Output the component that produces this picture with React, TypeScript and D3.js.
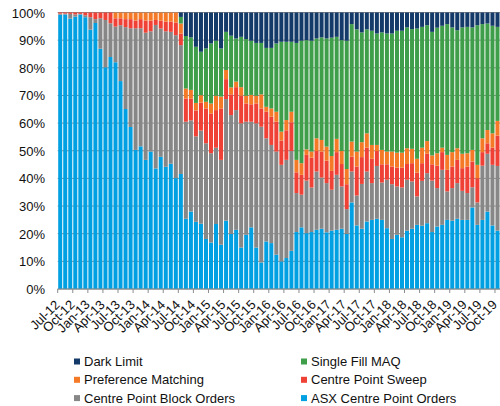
import React from 'react'
import * as d3 from 'd3'

// share of Centre Point volume by order type, Jul-12 .. Oct-19 (monthly, %)
const asxCentrePoint = [
  99.2, 99.3, 97.8, 98.5, 99.3, 98.3, 93.8, 96.2, 86.9, 80.2, 83.9, 82.0, 75.2, 65.1, 58.6, 50.3,
  51.6, 46.7, 49.7, 43.6, 47.8, 44.2, 45.3, 40.1, 41.6, 25.4, 28.0, 24.3, 23.6, 18.1, 16.8, 23.5,
  16.0, 24.7, 19.9, 21.4, 15.0, 19.6, 22.3, 15.0, 9.6, 17.2, 16.6, 12.4, 10.0, 11.2, 13.8, 20.6,
  22.3, 20.2, 20.6, 21.4, 21.8, 20.5, 21.1, 21.4, 21.8, 19.9, 31.3, 23.0, 21.8, 24.4, 25.0, 25.4,
  25.0, 22.0, 18.1, 19.6, 18.7, 21.1, 21.8, 23.2, 22.9, 23.8, 20.6, 22.6, 23.2, 25.0, 24.7, 25.4,
  25.0, 25.0, 29.5, 23.2, 25.0, 28.0, 23.0, 21.1,
]
const blockOrders = [
  0.4, 0.3, 1.7, 0.8, 0.2, 0.7, 4.5, 1.4, 11.0, 17.1, 12.2, 12.9, 20.2, 29.6, 35.7, 44.0,
  42.7, 46.0, 43.5, 51.9, 46.4, 49.0, 47.7, 51.7, 46.6, 35.1, 33.0, 30.9, 33.7, 34.6, 32.3, 27.6,
  30.7, 44.0, 43.0, 43.3, 44.9, 40.9, 38.2, 44.9, 49.1, 37.3, 35.5, 37.3, 34.9, 35.5, 36.1, 14.1,
  11.8, 19.0, 16.1, 21.1, 18.5, 17.8, 14.8, 19.9, 15.3, 9.0, 11.2, 10.8, 16.2, 18.1, 13.3, 19.1,
  13.5, 17.5, 19.8, 17.5, 18.0, 18.4, 17.1, 10.3, 16.2, 18.1, 18.6, 13.9, 19.9, 10.3, 11.8, 12.9,
  10.5, 9.7, 7.3, 8.1, 19.6, 20.9, 21.9, 23.4,
]
const sweep = [
  0.4, 0.4, 0.5, 0.7, 0.5, 1.0, 1.7, 2.4, 2.1, 2.7, 3.9, 3.0, 2.5, 2.9, 3.3, 2.8,
  3.3, 4.4, 3.9, 1.8, 2.9, 3.5, 3.7, 4.6, 4.2, 8.4, 7.8, 9.4, 10.1, 12.6, 14.4, 13.6,
  18.6, 7.2, 7.5, 8.3, 10.0, 6.6, 6.3, 7.2, 6.6, 9.6, 10.2, 10.8, 8.8, 10.7, 10.4, 7.5,
  7.2, 9.3, 10.8, 7.4, 9.4, 8.1, 6.8, 8.2, 8.1, 9.0, 5.4, 10.5, 9.7, 8.6, 8.8, 5.4,
  6.6, 5.6, 6.4, 6.8, 7.2, 5.7, 6.6, 8.6, 6.4, 7.0, 5.9, 8.1, 6.4, 7.8, 7.8, 8.4,
  8.2, 9.6, 9.3, 8.8, 4.9, 3.8, 6.2, 11.0,
]
const preference = [
  0, 0, 0, 0, 0, 0, 0, 0, 0, 0, 0, 2.1, 2.1, 2.4, 2.4, 2.9,
  2.4, 2.9, 2.9, 2.7, 2.9, 3.3, 3.3, 3.6, 3.6, 3.6, 3.2, 2.7, 2.7, 2.4, 3.6, 5.2,
  4.3, 3.3, 2.5, 2.0, 3.1, 2.8, 3.4, 2.8, 5.1, 1.8, 3.0, 3.6, 3.2, 3.7, 3.8, 4.5,
  4.2, 2.0, 2.2, 4.6, 4.2, 5.1, 5.4, 4.8, 4.7, 5.5, 5.4, 5.4, 5.4, 5.2, 5.0, 2.2,
  5.2, 4.6, 5.4, 5.4, 5.4, 5.7, 5.2, 5.0, 5.6, 4.6, 3.2, 4.5, 1.6, 5.4, 5.2, 4.2,
  5.2, 4.8, 4.2, 4.8, 5.0, 4.8, 5.2, 5.3,
]
const singleFillMaq = [
  0, 0, 0, 0, 0, 0, 0, 0, 0, 0, 0, 0, 0, 0, 0, 0,
  0, 0, 0, 0, 0, 0, 0, 0, 2.4, 19.0, 19.0, 20.3, 15.7, 19.3, 21.7, 19.9,
  17.4, 13.8, 18.7, 15.6, 18.2, 20.5, 19.6, 19.1, 18.6, 21.3, 21.9, 24.7, 32.5, 28.3, 25.3, 42.3,
  44.3, 39.5, 40.1, 36.1, 37.1, 39.1, 42.8, 36.9, 40.1, 46.4, 42.5, 44.2, 39.7, 37.6, 41.3, 40.3,
  42.5, 42.7, 42.7, 44.1, 44.1, 43.7, 43.3, 47.1, 43.7, 41.9, 44.7, 45.4, 44.1, 47.3, 45.1, 42.7,
  45.7, 45.7, 44.3, 50.5, 41.3, 38.5, 38.9, 34.0,
]
const darkLimit = [
  0, 0, 0, 0, 0, 0, 0, 0, 0, 0, 0, 0, 0, 0, 0, 0,
  0, 0, 0, 0, 0, 0, 0, 0, 1.6, 8.5, 9.0, 12.4, 14.2, 13.0, 11.2, 10.2,
  13.0, 7.0, 8.4, 9.4, 8.8, 9.6, 10.2, 11.0, 11.0, 12.8, 12.8, 11.2, 10.6, 10.6, 10.6, 11.0,
  10.2, 10.0, 10.2, 9.4, 9.0, 9.4, 9.1, 8.8, 10.0, 10.2, 4.2, 6.1, 7.2, 6.1, 6.6, 7.6,
  7.2, 7.6, 7.6, 6.6, 6.6, 5.4, 6.0, 5.8, 5.2, 4.6, 7.0, 5.5, 4.8, 4.2, 5.4, 6.4,
  5.4, 5.2, 5.4, 4.6, 4.2, 4.0, 4.8, 5.2,
]

const monthNames = ['Jan', 'Feb', 'Mar', 'Apr', 'May', 'Jun', 'Jul', 'Aug', 'Sep', 'Oct', 'Nov', 'Dec']
const categories = asxCentrePoint.map((_, i) => {
  const m = (6 + i) % 12
  const y = 12 + Math.floor((6 + i) / 12)
  return monthNames[m] + '-' + y
})
const tickLabels = [
  'Jul-12', 'Oct-12', 'Jan-13', 'Apr-13', 'Jul-13', 'Oct-13', 'Jan-14', 'Apr-14', 'Jul-14', 'Oct-14',
  'Jan-15', 'Apr-15', 'Jul-15', 'Oct-15', 'Jan-16', 'Apr-16', 'Jul-16', 'Oct-16', 'Jan-17', 'Apr-17',
  'Jul-17', 'Oct-17', 'Jan-18', 'Apr-18', 'Jul-18', 'Oct-18', 'Jan-19', 'Apr-19', 'Jul-19', 'Oct-19',
]
const yTicks = [0, 10, 20, 30, 40, 50, 60, 70, 80, 90, 100]

// stacking order bottom -> top
const series = [
  { name: 'ASX Centre Point Orders', values: asxCentrePoint, color: '#00a0e2' },
  { name: 'Centre Point Block Orders', values: blockOrders, color: '#878787' },
  { name: 'Centre Point Sweep', values: sweep, color: '#ef4136' },
  { name: 'Preference Matching', values: preference, color: '#f57a28' },
  { name: 'Single Fill MAQ', values: singleFillMaq, color: '#3f9e4a' },
  { name: 'Dark Limit', values: darkLimit, color: '#143a6a' },
]
// legend layout: rows of two
const legendRows = [
  ['Dark Limit', 'Single Fill MAQ'],
  ['Preference Matching', 'Centre Point Sweep'],
  ['Centre Point Block Orders', 'ASX Centre Point Orders'],
]

const W = 500
const H = 406
const left = 57.7
const right = 500
const top = 12.5
const bottom = 289
const font = '"Liberation Sans", Arial, sans-serif'

export default function App() {
  const x = d3.scaleBand().domain(categories).range([left, right]).paddingInner(0.2).paddingOuter(0.1)
  const y = d3.scaleLinear().domain([0, 100]).range([bottom, top])

  const rows = categories.map((c, i) => {
    const r: any = { cat: c }
    series.forEach((s) => (r[s.name] = s.values[i]))
    return r
  })
  const stacked = d3.stack().keys(series.map((s) => s.name)).offset(d3.stackOffsetExpand)(rows)
  const colorOf = (n: string) => series.find((s) => s.name === n)!.color

  const step = x.step()
  const tickXs = d3.range(0, categories.length + 1, 3).map((k) => left + k * step)

  return (
    <svg width={W} height={H} style={{ position: 'absolute', left: 0, top: 0 }} fontFamily={font}>
      <rect width={W} height={H} fill="#fff" />
      {yTicks.map((t) => (
        <g key={t}>
          <line x1={left} x2={right} y1={y(t)} y2={y(t)} stroke="#8c8c8c" strokeWidth={1} />
          <text x={45} y={y(t) + 5} textAnchor="end" fontSize={13} fill="#111">
            {t + '%'}
          </text>
        </g>
      ))}
      {stacked.map((layer) => (
        <g key={layer.key} fill={colorOf(layer.key)}>
          {layer.map((d, i) => (
            <rect
              key={i}
              x={x(categories[i])}
              width={x.bandwidth()}
              y={y(d[1] * 100)}
              height={Math.max(0, y(d[0] * 100) - y(d[1] * 100))}
            />
          ))}
        </g>
      ))}
      <line x1={left} x2={right} y1={bottom} y2={bottom} stroke="#8c8c8c" />
      {tickXs.map((tx, i) => (
        <line key={i} x1={tx} x2={tx} y1={bottom} y2={bottom + 4} stroke="#8c8c8c" />
      ))}
      {tickLabels.map((lab, i) => {
        const cx = x(categories[i * 3])! + x.bandwidth() / 2 + 0.3
        const cy = bottom + 16.5
        return (
          <text key={lab} x={cx} y={cy} textAnchor="end" fontSize={13} fill="#111"
            transform={`rotate(-45, ${cx}, ${cy})`}>
            {lab}
          </text>
        )
      })}
      {legendRows.map((row, r) =>
        row.map((name, c) => {
          const lx = c === 0 ? 74 : 301
          const ly = 361.5 + r * 18.3
          return (
            <g key={name}>
              <rect x={lx} y={ly - 3} width={6} height={6} fill={colorOf(name)} />
              <text x={lx + 10} y={ly + 4.5} fontSize={13} fill="#111">
                {name}
              </text>
            </g>
          )
        })
      )}
    </svg>
  )
}
